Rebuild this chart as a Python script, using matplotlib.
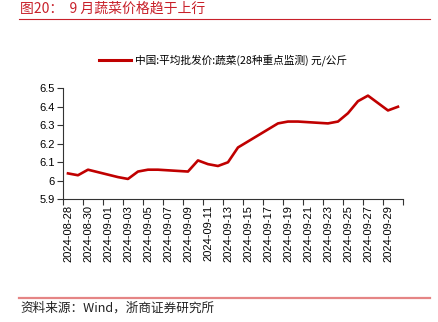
import datetime as dt

import matplotlib
matplotlib.use("Agg")
import matplotlib.dates as mdates
import matplotlib.pyplot as plt
import matplotlib.ticker as ticker
from matplotlib.lines import Line2D

plt.rcParams['font.family'] = ['Liberation Sans', 'Noto Sans CJK SC', 'DejaVu Sans']

TITLE = "图20：  9 月蔬菜价格趋于上行"
SOURCE = "资料来源：Wind，浙商证券研究所"
SERIES_NAME = "中国:平均批发价:蔬菜(28种重点监测) 元/公斤"

# 交易日数据（节假日无数据）
dates = [
    "2024-08-28", "2024-08-29", "2024-08-30", "2024-09-02", "2024-09-03",
    "2024-09-04", "2024-09-05", "2024-09-06", "2024-09-09", "2024-09-10",
    "2024-09-11", "2024-09-12", "2024-09-13", "2024-09-14", "2024-09-18",
    "2024-09-19", "2024-09-20", "2024-09-23", "2024-09-24", "2024-09-25",
    "2024-09-26", "2024-09-27", "2024-09-29", "2024-09-30",
]
prices = [
    6.04, 6.03, 6.06, 6.02, 6.01,
    6.05, 6.06, 6.06, 6.05, 6.11,
    6.09, 6.08, 6.10, 6.18, 6.31,
    6.32, 6.32, 6.31, 6.32, 6.365,
    6.43, 6.46, 6.38, 6.40,
]
y_ticks = [5.9, 6.0, 6.1, 6.2, 6.3, 6.4, 6.5]

RED = "#C00000"

x = [mdates.date2num(dt.datetime.strptime(d, "%Y-%m-%d")) for d in dates]
start = mdates.date2num(dt.datetime(2024, 8, 28))
end = mdates.date2num(dt.datetime(2024, 9, 30))

fig = plt.figure(figsize=(4.38, 3.22), dpi=100)
ax = fig.add_axes([0.1438, 0.381, 0.7762, 0.345])

ax.plot(x, prices, color=RED, lw=1.9, solid_joinstyle='round')

ax.set_xlim(start - 0.5, end + 0.5)
ax.set_ylim(5.9, 6.5)
ax.set_yticks(y_ticks)
ax.yaxis.set_major_formatter(ticker.FuncFormatter(lambda v, pos: f"{v:g}"))

# 刻度线在日期边界，标签居中于日期
boundaries = [start - 0.5 + 2 * i for i in range(18)]
ax.set_xticks(boundaries)
ax.set_xticklabels([])
centers = [start + 2 * i for i in range(17)]
ax.set_xticks(centers, minor=True)
ax.set_xticklabels([mdates.num2date(c).strftime("%Y-%m-%d") for c in centers],
                   minor=True, rotation=90)
ax.tick_params(axis='x', which='minor', length=0, pad=4, labelsize=8)
ax.tick_params(axis='x', which='major', length=4, width=0.8, color='#333333')
ax.tick_params(axis='y', length=4, width=0.8, color='#333333', labelsize=8, pad=2)

for s in ('top', 'right'):
    ax.spines[s].set_visible(False)
for s in ('left', 'bottom'):
    ax.spines[s].set_color('#333333')
    ax.spines[s].set_linewidth(0.8)

handle = Line2D([], [], color=RED, lw=2.2)
fig.legend([handle], [SERIES_NAME], loc='center left', bbox_to_anchor=(0.203, 0.813),
           frameon=False, handlelength=3.0, handletextpad=0.4,
           prop={'family': ['Noto Sans CJK SC'], 'size': 7.7})

fig.text(0.046, 0.996, TITLE, color="#C8202A", fontsize=10, va='top',
         family=['Noto Sans CJK SC'])
fig.add_artist(Line2D([0.043, 0.982], [0.941, 0.941], color="#C8202A", lw=0.8))
fig.add_artist(Line2D([0.043, 0.982], [0.074, 0.074], color="#E58585", lw=1.6))
fig.text(0.046, 0.043, SOURCE, color="#222222", fontsize=9.1, va='center',
         family=['Noto Sans CJK SC'])

fig.savefig("out.png", dpi=100)
